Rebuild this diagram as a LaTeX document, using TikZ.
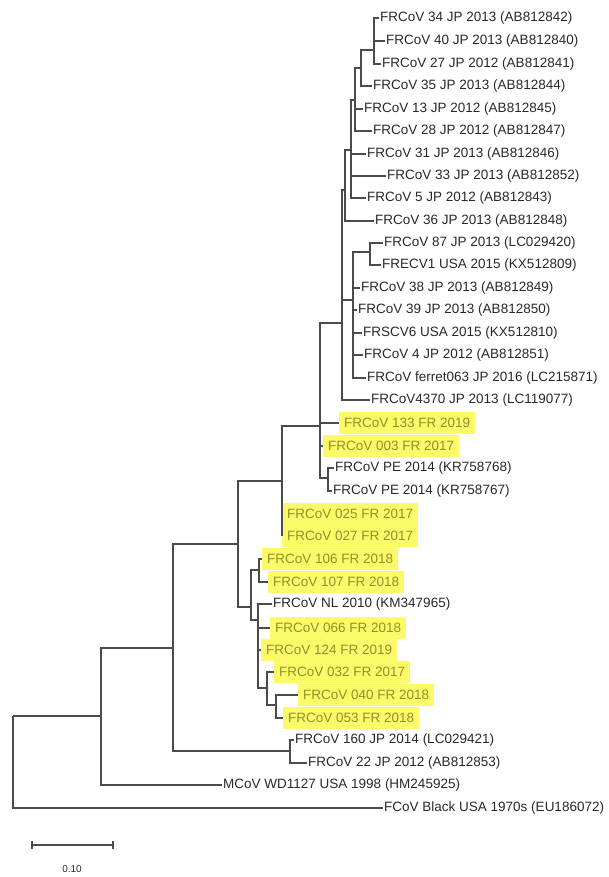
\documentclass[tikz,border=0pt]{standalone}
\usepackage{fontspec}
\setmainfont{Liberation Sans}
\definecolor{txt}{RGB}{40,40,40}
\definecolor{hltxt}{RGB}{145,145,40}
\definecolor{hlfill}{RGB}{252,250,105}
\definecolor{ln}{RGB}{75,75,75}
\tikzset{
  lf/.style={anchor=west, inner xsep=1.5pt, inner ysep=0pt, xshift=-1.5pt, text=txt, font=\fontsize{13.5}{14}\selectfont},
  hl/.style={anchor=west, inner xsep=5pt, inner ysep=0pt, xshift=-5pt, minimum height=22.6pt, fill=hlfill, text=hltxt, font=\fontsize{13.5}{14}\selectfont},
  br/.style={draw=ln, line width=1.1pt},
}
\begin{document}
\begin{tikzpicture}[x=1pt,y=-1pt]
\useasboundingbox (0,0) rectangle (608,877);
% internal nodes
\coordinate (root) at (13,716);
\coordinate (A) at (101,716);
\coordinate (B) at (173,648);
\coordinate (G) at (238,544);
\coordinate (E) at (282,481);
\coordinate (F) at (320,426);
\coordinate (J) at (342,323);
\coordinate (Z) at (345,190);
\coordinate (W) at (351,150);
\coordinate (V) at (355,100);
\coordinate (U) at (361,68);
\coordinate (T) at (374,50);
\coordinate (R) at (353,300);
\coordinate (Q) at (370,252);
\coordinate (P) at (328,478);
\coordinate (K) at (251,607);
\coordinate (H) at (259,570);
\coordinate (N) at (258,620);
\coordinate (L) at (267,688);
\coordinate (LL) at (276,705);
\coordinate (D) at (290,751);
% highlighted leaves first (background)
\node[hl] (n133) at (344,423) {FRCoV 133 FR 2019};
\node[hl] (n003) at (328,446) {FRCoV 003 FR 2017};
\node[hl] (n025) at (287,514) {FRCoV 025 FR 2017};
\node[hl] (n027) at (287,536) {FRCoV 027 FR 2017};
\node[hl] (n106) at (267,559) {FRCoV 106 FR 2018};
\node[hl] (n107) at (273,582) {FRCoV 107 FR 2018};
\node[hl] (n066) at (275,628) {FRCoV 066 FR 2018};
\node[hl] (n124) at (266,650) {FRCoV 124 FR 2019};
\node[hl] (n032) at (279,672) {FRCoV 032 FR 2017};
\node[hl] (n040) at (303,695) {FRCoV 040 FR 2018};
\node[hl] (n053) at (288,718) {FRCoV 053 FR 2018};
% plain leaves
\node[lf] (n34) at (380,18) {FRCoV 34 JP 2013 (AB812842)};
\node[lf] (n40) at (386,41) {FRCoV 40 JP 2013 (AB812840)};
\node[lf] (n27) at (382,64) {FRCoV 27 JP 2012 (AB812841)};
\node[lf] (n35) at (373,86) {FRCoV 35 JP 2013 (AB812844)};
\node[lf] (n13) at (364,109) {FRCoV 13 JP 2012 (AB812845)};
\node[lf] (n28) at (373,131) {FRCoV 28 JP 2012 (AB812847)};
\node[lf] (n31) at (367,154) {FRCoV 31 JP 2013 (AB812846)};
\node[lf] (n33) at (387,176) {FRCoV 33 JP 2013 (AB812852)};
\node[lf] (n5) at (367,198) {FRCoV 5 JP 2012 (AB812843)};
\node[lf] (n36) at (375,221) {FRCoV 36 JP 2013 (AB812848)};
\node[lf] (n87) at (384,243) {FRCoV 87 JP 2013 (LC029420)};
\node[lf] (necv) at (382,265) {FRECV1 USA 2015 (KX512809)};
\node[lf] (n38) at (361,288) {FRCoV 38 JP 2013 (AB812849)};
\node[lf] (n39) at (358,310) {FRCoV 39 JP 2013 (AB812850)};
\node[lf] (nscv) at (363,333) {FRSCV6 USA 2015 (KX512810)};
\node[lf] (n4) at (364,355) {FRCoV 4 JP 2012 (AB812851)};
\node[lf] (nfer) at (367,378) {FRCoV ferret063 JP 2016 (LC215871)};
\node[lf] (n4370) at (371,400) {FRCoV4370 JP 2013 (LC119077)};
\node[lf] (npe8) at (335,468) {FRCoV PE 2014 (KR758768)};
\node[lf] (npe7) at (333,491) {FRCoV PE 2014 (KR758767)};
\node[lf] (nnl) at (273,604) {FRCoV NL 2010 (KM347965)};
\node[lf] (n160) at (295,740) {FRCoV 160 JP 2014 (LC029421)};
\node[lf] (n22) at (308,763) {FRCoV 22 JP 2012 (AB812853)};
\node[lf] (nmcov) at (223,785) {MCoV WD1127 USA 1998 (HM245925)};
\node[lf] (nfcov) at (384,808) {FCoV Black USA 1970s (EU186072)};
% branches
\draw[br] (T) |- (n34.west) (T) |- (n40.west) (T) |- (n27.west);
\draw[br] (U) |- (T) (U) |- (n35.west);
\draw[br] (V) |- (U) (V) |- (n13.west) (V) |- (n28.west);
\draw[br] (W) |- (V) (W) |- (n31.west) (W) |- (n33.west) (W) |- (n5.west);
\draw[br] (Z) |- (W) (Z) |- (n36.west);
\draw[br] (Q) |- (n87.west) (Q) |- (necv.west);
\draw[br] (R) |- (Q) (R) |- (n38.west) (R) |- (n39.west) (R) |- (nscv.west) (R) |- (n4.west) (R) |- (nfer.west);
\draw[br] (J) |- (Z) (J) |- (R) (J) |- (n4370.west);
\draw[br] (P) |- (npe8.west) (P) |- (npe7.west);
\draw[br] (F) |- (J) (F) |- (n133.west) (F) |- (n003.west) (F) |- (P);
\draw[br] (E) |- (F) (E) |- (n025.west) (E) |- (n027.west);
\draw[br] (H) |- (n106.west) (H) |- (n107.west);
\draw[br] (LL) |- (n040.west) (LL) |- (n053.west);
\draw[br] (L) |- (n032.west) (L) |- (LL);
\draw[br] (N) |- (nnl.west) (N) |- (n066.west) (N) |- (n124.west) (N) |- (L);
\draw[br] (K) |- (H) (K) |- (N);
\draw[br] (G) |- (E) (G) |- (K);
\draw[br] (D) |- (n160.west) (D) |- (n22.west);
\draw[br] (B) |- (G) (B) |- (D);
\draw[br] (A) |- (B) (A) |- (nmcov.west);
\draw[br] (root) |- (A) (root) |- (nfcov.west);
% scale bar
\coordinate (sb1) at (32,845);
\coordinate (sb2) at (113,845);
\draw[br] (sb1) -- (sb2);
\draw[br] ([yshift=-4pt]sb1) -- ([yshift=4pt]sb1);
\draw[br] ([yshift=-4pt]sb2) -- ([yshift=4pt]sb2);
\node[text=txt, font=\fontsize{10}{11}\selectfont, inner sep=0pt] (sbl) at (72,869) {0.10};
\end{tikzpicture}
\end{document}
